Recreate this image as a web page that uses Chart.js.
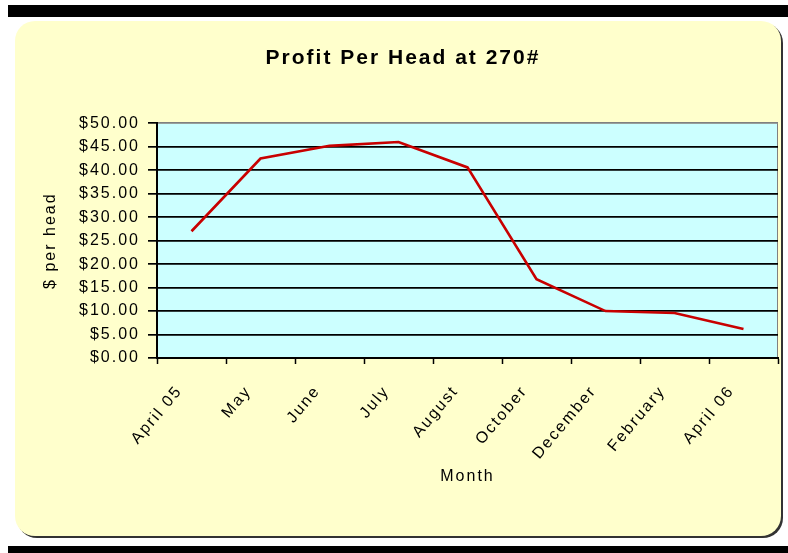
<!DOCTYPE html>
<html>
<head>
<meta charset="utf-8">
<title>Profit Per Head at 270#</title>
<script src="https://cdn.jsdelivr.net/npm/chart.js@4.4.1/dist/chart.umd.min.js"></script>
<style>
  html, body { margin: 0; padding: 0; background: #ffffff; }
  canvas { display: block; }
</style>
</head>
<body>
<canvas id="chart" width="788" height="553"></canvas>
<script>
const months = ['April 05', 'May', 'June', 'July', 'August', 'October', 'December', 'February', 'April 06'];
const profitPerHead = [27.0, 42.5, 45.2, 46.0, 40.6, 16.8, 10.0, 9.6, 6.2];
const yTickValues = [0, 5, 10, 15, 20, 25, 30, 35, 40, 45, 50];

const FONT = '"Liberation Sans", Arial, sans-serif';
const SPACING = '2px';

// white page, black bands, yellow rounded panel and cyan plot area
const backdrop = {
    id: 'backdrop',
    beforeLayout(chart) {
        chart.ctx.letterSpacing = SPACING;
    },
    beforeDraw(chart) {
        const ctx = chart.ctx;
        const { left, top, right, bottom } = chart.chartArea;
        ctx.letterSpacing = SPACING;
        ctx.save();
        ctx.fillStyle = '#ffffff';
        ctx.fillRect(0, 0, chart.width, chart.height);
        ctx.fillStyle = '#000000';
        ctx.fillRect(8, 5, chart.width - 8, 12);
        ctx.fillRect(8, 546, chart.width - 8, 7);
        ctx.fillStyle = '#333333';
        ctx.beginPath();
        ctx.roundRect(17, 23, 766, 515, 20);
        ctx.fill();
        ctx.fillStyle = '#ffffcc';
        ctx.beginPath();
        ctx.roundRect(15, 21, 766, 515, 20);
        ctx.fill();
        ctx.fillStyle = '#ccffff';
        ctx.fillRect(left, top, right - left, bottom - top);
        ctx.strokeStyle = '#808080';
        ctx.lineWidth = 1;
        ctx.beginPath();
        ctx.moveTo(right - 0.5, top);
        ctx.lineTo(right - 0.5, bottom);
        ctx.stroke();
        ctx.restore();
    }
};

new Chart(document.getElementById('chart'), {
    type: 'line',
    data: {
        labels: months,
        datasets: [{
            label: 'Profit per head',
            data: profitPerHead,
            borderColor: '#c80000',
            borderWidth: 2.6,
            pointRadius: 0,
            tension: 0,
            fill: false
        }]
    },
    options: {
        responsive: false,
        animation: false,
        layout: { padding: { left: 28, right: 10, top: 0, bottom: 0 } },
        plugins: {
            legend: { display: false },
            tooltip: { enabled: false },
            title: {
                display: true,
                text: 'Profit Per Head at 270#',
                color: '#000000',
                font: { family: FONT, size: 21, weight: 'bold' },
                padding: { top: 45.4, bottom: 52.7 }
            }
        },
        scales: {
            x: {
                offset: true,
                afterFit: s => { s.height = 195; },
                grid: {
                    offset: true,
                    drawOnChartArea: false,
                    drawTicks: true,
                    tickLength: 6,
                    tickColor: '#000000',
                    tickWidth: 1.5
                },
                border: { display: true, color: '#000000', width: 2 },
                ticks: {
                    color: '#000000',
                    font: { family: FONT, size: 16 },
                    minRotation: 50,
                    maxRotation: 50,
                    autoSkip: false,
                    padding: 18,
                    labelOffset: -12
                },
                title: {
                    display: true,
                    text: 'Month',
                    color: '#000000',
                    font: { family: FONT, size: 16 },
                    padding: { top: 0, bottom: 66.4 }
                }
            },
            y: {
                min: 0,
                max: 50,
                afterFit: s => { s.width = 129; },
                afterBuildTicks: s => { s.ticks = yTickValues.map(v => ({ value: v })); },
                grid: {
                    color: ctx => (ctx.tick && ctx.tick.value === 50 ? '#808080' : '#000000'),
                    lineWidth: 1.7,
                    drawTicks: true,
                    tickLength: 9,
                    tickColor: '#000000'
                },
                border: { display: true, color: '#000000', width: 2 },
                ticks: {
                    color: '#000000',
                    font: { family: FONT, size: 16 },
                    padding: 8,
                    callback: v => '$' + Number(v).toFixed(2)
                },
                title: {
                    display: true,
                    text: '$ per head',
                    color: '#000000',
                    font: { family: FONT, size: 16 },
                    padding: { top: 13.4, bottom: 0 }
                }
            }
        }
    },
    plugins: [backdrop]
});
</script>
</body>
</html>
